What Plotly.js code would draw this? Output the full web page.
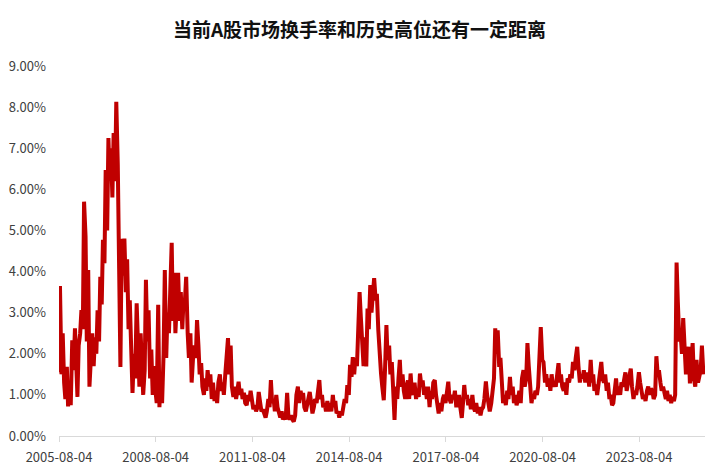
<!DOCTYPE html>
<html>
<head>
<meta charset="utf-8">
<script src="https://cdn.plot.ly/plotly-3.0.1.min.js"></script>
<style>html,body{margin:0;padding:0;background:#fff;}#chart{width:719px;height:474px;}</style>
</head>
<body>
<div id="chart"></div>
<script>
const startYear = 2005, startMonth = 8;
const v2005 = [1.55,3.65,1.5,2.5,1.3,0.9,1.68,0.72,1.1,0.75];
const v2006 = [2.33,1.6,2.62,1.5,0.95,2.2,2.5,3.06,2.6,5.7,4.85,2.3,4.04,1.2,1.8,2.5,1.7,2.4,2.0,3.06,2.3,3.87,3.2,4.77];
const v2007 = [4.2,6.47,5.0,7.25,6.3,7.0,5.8,7.37,6.2,8.13,6.6,4.36,1.68,4.8,3.9,4.8,3.5,4.3,2.6,3.3,1.7,1.05,2.0,1.4];
const v2008 = [3.23,2.0,1.2,2.5,1.8,1.0,1.6,3.8,2.3,3.06,1.4,2.1,1.0,1.7,1.1,0.8,3.19,0.7,1.5,0.8,2.0,4.04,1.9,3.0];
const v2009 = [2.5,3.6,4.7,2.8,3.97,2.5,3.3,3.97,2.8,3.5,2.6,3.3,3.3,3.87,2.5,1.9,2.5,1.3,1.9,2.2,1.9,2.82,2.2,1.5];
const v2010 = [1.77,1.2,1.0,1.4,1.1,1.6,1.2,1.5,0.9,1.3,0.85,1.1,0.8,1.3,1.5,1.1,1.3,1.0,1.5,1.8,2.38,1.5,2.2,1.2];
const v2011 = [0.95,1.2,0.9,1.1,1.32,1.0,1.15,0.9,1.05,0.8,0.75,1.0,0.85,1.1,0.8,0.65,0.75,0.6,0.7,1.07,0.8,0.6,0.65,0.55];
const v2012 = [0.45,0.6,0.9,0.7,1.36,0.8,0.9,0.6,1.0,0.7,0.55,0.45,0.6,0.4,0.5,0.4,1.05,0.5,0.4,0.5,0.4,0.35,0.5,1.0];
const v2013 = [1.2,0.8,1.1,0.9,1.05,0.7,0.6,0.8,0.9,1.07,0.8,0.55,0.7,0.9,0.8,1.0,1.36,0.9,1.0,0.7,0.8,0.6,0.85,0.6];
const v2014 = [0.8,0.6,1.0,0.7,0.85,0.55,0.6,0.45,0.6,0.5,0.7,0.9,0.8,1.24,1.0,1.73,1.44,1.92,1.5,1.9,1.7,2.4,3.5,2.9];
const v2015 = [2.1,1.7,2.4,1.69,3.1,2.6,3.67,3.0,3.46,3.84,3.3,3.46,2.58,1.9,1.52,1.2,0.87,1.6,2.7,1.85,2.2,1.5,1.8,1.2];
const v2016 = [0.39,1.2,0.9,1.4,1.85,1.2,1.5,1.1,0.9,1.2,1.35,0.9,1.52,1.1,1.0,1.3,0.9,1.1,0.95,1.52,1.2,1.35,1.0,1.2];
const v2017 = [0.9,1.2,0.7,1.1,0.9,1.3,1.36,1.0,0.7,0.55,0.8,0.6,0.9,1.0,0.8,1.1,1.32,0.9,0.8,1.0,0.9,1.1,0.7,0.85];
const v2018 = [1.0,0.7,0.44,0.8,1.24,0.9,1.0,0.75,0.9,0.65,1.0,0.7,0.6,0.8,0.55,0.7,0.5,0.65,0.7,0.9,1.33,1.0,0.7,0.6];
const v2019 = [0.8,1.0,1.4,2.62,2.0,2.57,1.68,1.9,1.2,0.8,1.0,0.75,1.1,0.9,1.44,1.0,1.2,0.8,1.0,0.75,0.9,1.1,0.8,1.4];
const v2020 = [1.6,1.2,1.4,2.26,1.7,1.3,0.8,1.0,0.9,1.1,1.0,1.2,1.9,2.65,1.85,1.8,1.3,1.5,1.2,1.4,1.1,1.5,1.2,1.3];
const v2021 = [1.2,1.5,1.77,1.3,1.5,1.2,1.1,1.3,1.0,1.4,1.3,1.5,1.4,1.8,1.6,1.9,2.17,1.7,1.3,1.5,1.4,1.6,1.3,1.5];
const v2022 = [1.5,1.2,1.85,1.3,1.5,1.1,1.25,1.0,1.3,1.45,1.8,1.4,1.3,1.5,1.1,1.3,0.9,1.0,0.75,0.8,1.2,1.4,1.0,1.2];
const v2023 = [1.0,1.3,1.2,1.4,1.55,1.1,1.3,1.5,1.64,1.2,0.9,1.1,1.0,1.2,1.55,1.3,1.1,0.9,1.0,0.85,1.1,1.2,1.0,1.15];
const v2024 = [1.1,0.9,1.0,1.94,1.5,1.6,1.3,1.1,1.2,1.0,0.9,1.1,0.85,1.0,0.8,0.95,0.85,1.0,4.22,3.27,2.3,2.5,2.0,2.87];
const v2025 = [1.85,1.5,2.0,2.17,1.28,1.7,2.26,1.4,1.2,1.85,1.3,1.44,1.6,2.2,1.5];

const tickDates = ['2005-08-04','2008-08-04','2011-08-04','2014-08-04','2017-08-04','2020-08-04','2023-08-04'];
const yTicks = [0,1,2,3,4,5,6,7,8,9];

const yearly = [v2005,v2006,v2007,v2008,v2009,v2010,v2011,v2012,v2013,v2014,v2015,v2016,v2017,v2018,v2019,v2020,v2021,v2022,v2023,v2024,v2025];
const xs = [], ys = [];
yearly.forEach((arr, yi) => {
  const yr = startYear + yi;
  const m0 = yi === 0 ? startMonth : 1;
  arr.forEach((v, k) => {
    const m = m0 + Math.floor(k / 2);
    const d = k % 2 === 0 ? '01' : '15';
    xs.push(yr + '-' + String(m).padStart(2, '0') + '-' + d);
    ys.push(v);
  });
});

const font = 'Noto Sans CJK SC, Noto Sans, sans-serif';
Plotly.newPlot('chart', [{
  x: xs, y: ys, type: 'scatter', mode: 'lines',
  line: {color: '#c00000', width: 4},
  hoverinfo: 'skip'
}], {
  width: 719, height: 474,
  margin: {l: 59, r: 14, t: 66, b: 38},
  paper_bgcolor: '#fff', plot_bgcolor: '#fff',
  showlegend: false,
  title: {text: '<b>当前A股市场换手率和历史高位还有一定距离</b>', x: 0.5, xanchor: 'center', y: 0.935, yanchor: 'middle',
    font: {family: font, size: 19, color: '#111'}},
  xaxis: {type: 'date', range: ['2005-08-04', '2025-08-19'],
    tickvals: tickDates, ticktext: tickDates,
    showgrid: false, zeroline: false, showline: true, linecolor: '#d9d9d9', linewidth: 1,
    ticks: 'outside', ticklen: 5, tickcolor: '#d9d9d9', tickwidth: 1,
    ticklabelstandoff: 4,
    tickfont: {family: font, size: 13, color: '#404040'}},
  yaxis: {range: [0, 9], tickvals: yTicks, ticktext: yTicks.map(v => v.toFixed(2) + '%'),
    showgrid: false, zeroline: false, showline: false, ticks: '',
    ticklabelstandoff: 12,
    tickfont: {family: font, size: 13, color: '#404040'}}
}, {staticPlot: true, displayModeBar: false});
</script>
</body>
</html>
